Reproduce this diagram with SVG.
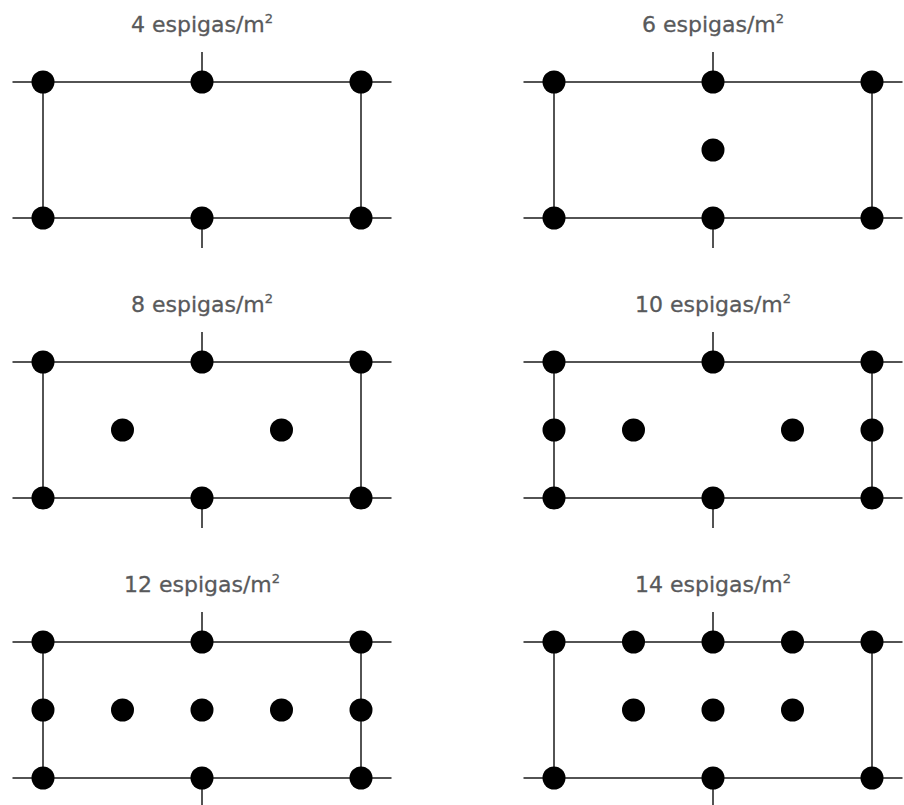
<svg xmlns="http://www.w3.org/2000/svg" width="904" height="805" viewBox="0 0 904 805">
<defs>
<style>
.ln{stroke:#1a1a1a;stroke-width:1.5;fill:none}
.dot{fill:#000}
.t{font-family:"DejaVu Sans","Liberation Sans",sans-serif;font-size:22px;fill:#58595b;text-anchor:middle;stroke:#58595b;stroke-width:0.3}
.sup{font-size:13px}
</style>
<g id="panel">
<line class="ln" x1="-30.5" y1="0" x2="348.5" y2="0"/>
<line class="ln" x1="-30.5" y1="136" x2="348.5" y2="136"/>
<line class="ln" x1="0" y1="0" x2="0" y2="136"/>
<line class="ln" x1="318" y1="0" x2="318" y2="136"/>
<line class="ln" x1="159" y1="-30" x2="159" y2="0"/>
<line class="ln" x1="159" y1="136" x2="159" y2="166"/>
<circle class="dot" cx="0" cy="0" r="11.5"/>
<circle class="dot" cx="159" cy="0" r="11.5"/>
<circle class="dot" cx="318" cy="0" r="11.5"/>
<circle class="dot" cx="0" cy="136" r="11.5"/>
<circle class="dot" cx="159" cy="136" r="11.5"/>
<circle class="dot" cx="318" cy="136" r="11.5"/>
</g>
</defs>
<g id="connectors"></g>
<g id="p4">
<text class="t" x="202" y="32">4 espigas/m<tspan class="sup" dy="-9">2</tspan></text>
<use href="#panel" x="43" y="82"/>
</g>
<g id="p6">
<text class="t" x="713" y="32">6 espigas/m<tspan class="sup" dy="-9">2</tspan></text>
<use href="#panel" x="554" y="82"/>
<circle class="dot" cx="713" cy="150" r="11.5"/>
</g>
<g id="p8">
<text class="t" x="202" y="312">8 espigas/m<tspan class="sup" dy="-9">2</tspan></text>
<use href="#panel" x="43" y="362"/>
<circle class="dot" cx="122.5" cy="430" r="11.5"/>
<circle class="dot" cx="281.5" cy="430" r="11.5"/>
</g>
<g id="p10">
<text class="t" x="713" y="312">10 espigas/m<tspan class="sup" dy="-9">2</tspan></text>
<use href="#panel" x="554" y="362"/>
<circle class="dot" cx="554" cy="430" r="11.5"/>
<circle class="dot" cx="633.5" cy="430" r="11.5"/>
<circle class="dot" cx="792.5" cy="430" r="11.5"/>
<circle class="dot" cx="872" cy="430" r="11.5"/>
</g>
<g id="p12">
<text class="t" x="202" y="592">12 espigas/m<tspan class="sup" dy="-9">2</tspan></text>
<use href="#panel" x="43" y="642"/>
<circle class="dot" cx="43" cy="710" r="11.5"/>
<circle class="dot" cx="122.5" cy="710" r="11.5"/>
<circle class="dot" cx="202" cy="710" r="11.5"/>
<circle class="dot" cx="281.5" cy="710" r="11.5"/>
<circle class="dot" cx="361" cy="710" r="11.5"/>
</g>
<g id="p14">
<text class="t" x="713" y="592">14 espigas/m<tspan class="sup" dy="-9">2</tspan></text>
<use href="#panel" x="554" y="642"/>
<circle class="dot" cx="633.5" cy="642" r="11.5"/>
<circle class="dot" cx="792.5" cy="642" r="11.5"/>
<circle class="dot" cx="633.5" cy="710" r="11.5"/>
<circle class="dot" cx="713" cy="710" r="11.5"/>
<circle class="dot" cx="792.5" cy="710" r="11.5"/>
</g>
</svg>
